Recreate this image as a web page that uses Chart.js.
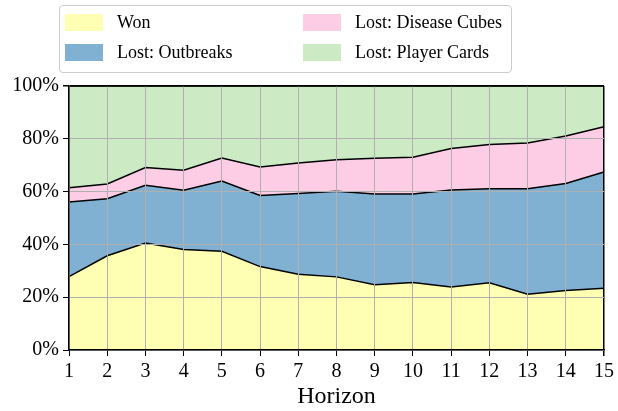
<!DOCTYPE html>
<html>
<head>
<meta charset="utf-8">
<script src="https://cdn.jsdelivr.net/npm/chart.js@4"></script>
<style>
  body { margin: 0; background: #fff; }
  #wrap { position: relative; width: 618px; height: 411px; }
  #legend {
    position: absolute; left: 59px; top: 5px; width: 451px; height: 66px;
    border: 1px solid #cccccc; border-radius: 4px; background: rgba(255,255,255,0.8);
    font-family: 'Liberation Serif', 'Times New Roman', serif; font-size: 18px; color: #000;
  }
  .item { position: absolute; display: flex; align-items: center; height: 20px; white-space: nowrap; }
  .sw { width: 38px; height: 17px; margin-right: 14px; flex: none; }
</style>
</head>
<body>
<div id="wrap">
  <canvas id="myChart" width="618" height="411"></canvas>
  <div id="legend"></div>
</div>
<script>
const ctx = document.getElementById('myChart');

const horizons = ['1', '2', '3', '4', '5', '6', '7', '8', '9', '10', '11', '12', '13', '14', '15'];
const won = [27.8, 35.7, 40.5, 38.1, 37.4, 31.6, 28.7, 27.7, 24.7, 25.6, 23.9, 25.5, 21.1, 22.5, 23.4];
const lostOutbreaks = [28.3, 21.6, 21.9, 22.4, 26.6, 26.9, 30.6, 32.4, 34.4, 33.5, 36.7, 35.6, 40.0, 40.6, 44.0];
const lostDiseaseCubes = [5.4, 5.6, 6.7, 7.6, 8.7, 10.8, 11.5, 12.0, 13.5, 13.9, 15.7, 16.7, 17.3, 18.0, 17.2];
const lostPlayerCards = [38.5, 37.1, 30.9, 31.9, 27.3, 30.7, 29.2, 27.9, 27.4, 27.0, 23.7, 22.2, 21.6, 18.9, 15.4];
const yTicks = [0, 20, 40, 60, 80, 100];

const serif = "'Liberation Serif', 'Times New Roman', serif";

function area(label, data, color, fill) {
    return {
        label: label,
        data: data,
        backgroundColor: color,
        borderColor: '#000',
        borderWidth: 1.5,
        fill: fill,
        pointRadius: 0,
        tension: 0
    };
}

const datasets = [
    area('Won', won, '#ffffb3', 'origin'),
    area('Lost: Outbreaks', lostOutbreaks, '#80b1d3', '-1'),
    area('Lost: Disease Cubes', lostDiseaseCubes, '#fccde5', '-1'),
    area('Lost: Player Cards', lostPlayerCards, '#ccebc5', '-1')
];

const myChart = new Chart(ctx, {
    type: 'line',
    data: { labels: horizons, datasets: datasets },
    options: {
        responsive: false,
        animation: false,
        layout: { padding: { top: 86, right: 13, left: 0, bottom: 0 } },
        scales: {
            x: {
                stacked: true,
                offset: false,
                grid: {
                    z: 1,
                    color: c => c.index === horizons.length - 1 ? '#000' : '#b0b0b0',
                    lineWidth: c => c.index === horizons.length - 1 ? 1.5 : 1,
                    tickColor: '#000',
                    tickLength: 6
                },
                border: { color: '#000', width: 1.5, z: 2 },
                ticks: {
                    color: '#000',
                    maxRotation: 0,
                    autoSkip: false,
                    padding: 4,
                    font: { family: serif, size: 20 }
                },
                title: {
                    display: true,
                    text: 'Horizon',
                    color: '#000',
                    padding: { top: 5, bottom: 0 },
                    font: { family: serif, size: 24 }
                },
                afterFit: s => { s.height = 61; }
            },
            y: {
                stacked: true,
                min: 0,
                max: 100,
                afterBuildTicks: s => { s.ticks = yTicks.map(v => ({ value: v })); },
                grid: {
                    z: 1,
                    color: c => c.tick.value === 100 ? '#000' : '#b0b0b0',
                    lineWidth: c => c.tick.value === 100 ? 1.5 : 1,
                    tickColor: '#000',
                    tickLength: 6
                },
                border: { color: '#000', width: 1.5, z: 2 },
                ticks: {
                    color: '#000',
                    padding: 4,
                    font: { family: serif, size: 20 },
                    callback: v => v + '%'
                },
                afterFit: s => { s.width = 69; }
            }
        },
        plugins: {
            legend: { display: false },
            tooltip: { enabled: false }
        }
    }
});

// legend laid out in two columns like the original
const legend = document.getElementById('legend');
const slots = [
    { left: 5, top: 6 },    // Won
    { left: 5, top: 36 },   // Outbreaks
    { left: 243, top: 6 },  // Disease cubes
    { left: 243, top: 36 }  // Player cards
];
datasets.forEach((d, i) => {
    const item = document.createElement('div');
    item.className = 'item';
    item.style.left = slots[i].left + 'px';
    item.style.top = slots[i].top + 'px';
    const sw = document.createElement('span');
    sw.className = 'sw';
    sw.style.background = d.backgroundColor;
    const txt = document.createElement('span');
    txt.textContent = d.label;
    item.appendChild(sw);
    item.appendChild(txt);
    legend.appendChild(item);
});
</script>
</body>
</html>
